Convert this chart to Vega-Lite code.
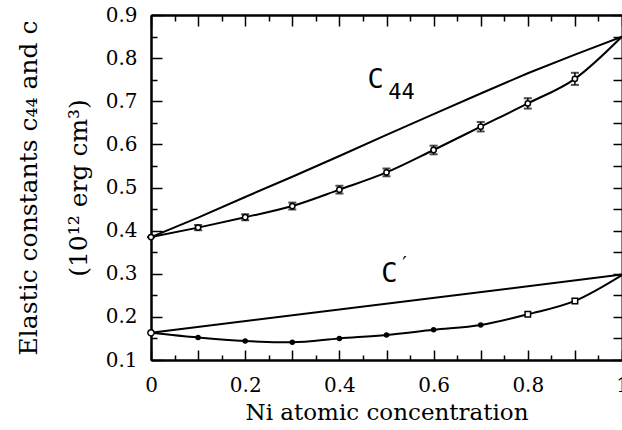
{
  "$schema": "https://vega.github.io/schema/vega-lite/v6.json",
  "width": 471,
  "height": 345,
  "autosize": "none",
  "padding": {"left": 151, "top": 15, "right": 0, "bottom": 70},
  "background": "white",
  "config": {
    "view": {"stroke": null},
    "axis": {
      "labelFont": "DejaVu Serif",
      "titleFont": "DejaVu Serif",
      "labelColor": "black",
      "titleColor": "black",
      "domainColor": "black",
      "tickColor": "black",
      "domainWidth": 2,
      "tickWidth": 1.5,
      "grid": false,
      "titleFontWeight": "normal",
      "labelFontSize": 20,
      "labelFlush": false
    }
  },
  "datasets": {
    "curves": [
      {"series": "c44_linear", "x": 0.0, "y": 0.385},
      {"series": "c44_linear", "x": 0.1, "y": 0.43},
      {"series": "c44_linear", "x": 0.2, "y": 0.478},
      {"series": "c44_linear", "x": 0.3, "y": 0.525},
      {"series": "c44_linear", "x": 0.4, "y": 0.573},
      {"series": "c44_linear", "x": 0.5, "y": 0.622},
      {"series": "c44_linear", "x": 0.6, "y": 0.67},
      {"series": "c44_linear", "x": 0.7, "y": 0.718},
      {"series": "c44_linear", "x": 0.8, "y": 0.765},
      {"series": "c44_linear", "x": 0.9, "y": 0.808},
      {"series": "c44_linear", "x": 1.0, "y": 0.85},
      {"series": "c44", "x": 0.0, "y": 0.385, "ylo": 0.385, "yhi": 0.385},
      {"series": "c44", "x": 0.1, "y": 0.407, "ylo": 0.401, "yhi": 0.413},
      {"series": "c44", "x": 0.2, "y": 0.431, "ylo": 0.424, "yhi": 0.438},
      {"series": "c44", "x": 0.3, "y": 0.457, "ylo": 0.449, "yhi": 0.465},
      {"series": "c44", "x": 0.4, "y": 0.495, "ylo": 0.486, "yhi": 0.504},
      {"series": "c44", "x": 0.5, "y": 0.535, "ylo": 0.526, "yhi": 0.544},
      {"series": "c44", "x": 0.6, "y": 0.587, "ylo": 0.577, "yhi": 0.597},
      {"series": "c44", "x": 0.7, "y": 0.641, "ylo": 0.63, "yhi": 0.652},
      {"series": "c44", "x": 0.8, "y": 0.695, "ylo": 0.683, "yhi": 0.707},
      {"series": "c44", "x": 0.9, "y": 0.752, "ylo": 0.738, "yhi": 0.766},
      {"series": "c44", "x": 1.0, "y": 0.85},
      {"series": "cp_linear", "x": 0.0, "y": 0.163},
      {"series": "cp_linear", "x": 1.0, "y": 0.298},
      {"series": "cp", "x": 0.0, "y": 0.163},
      {"series": "cp", "x": 0.1, "y": 0.152},
      {"series": "cp", "x": 0.2, "y": 0.144},
      {"series": "cp", "x": 0.3, "y": 0.141},
      {"series": "cp", "x": 0.4, "y": 0.15},
      {"series": "cp", "x": 0.5, "y": 0.158},
      {"series": "cp", "x": 0.6, "y": 0.17},
      {"series": "cp", "x": 0.7, "y": 0.181},
      {"series": "cp", "x": 0.8, "y": 0.206},
      {"series": "cp", "x": 0.9, "y": 0.237},
      {"series": "cp", "x": 1.0, "y": 0.297}
    ],
    "labels": [
      {"kind": "main", "t": "C", "x": 0.477, "y": 0.749},
      {"kind": "sub", "t": "44", "x": 0.532, "y": 0.721},
      {"kind": "main", "t": "C", "x": 0.506, "y": 0.3},
      {"kind": "prime", "t": "′", "x": 0.538, "y": 0.322}
    ]
  },
  "layer": [
    {
      "data": {"name": "curves"},
      "transform": [{"filter": "datum.series == 'c44_linear'"}],
      "mark": {"type": "line", "color": "black", "strokeWidth": 2},
      "encoding": {
        "x": {
          "field": "x", "type": "quantitative",
          "scale": {"domain": [0, 1], "nice": false, "zero": false},
          "axis": {
            "orient": "bottom",
            "values": [0, 0.1, 0.2, 0.3, 0.4, 0.5, 0.6, 0.7, 0.8, 0.9, 1],
            "labelExpr": "round(datum.value*10) % 2 == 0 ? format(datum.value, '~g') : ''",
            "tickSize": -10,
            "labelPadding": 25,
            "title": "Ni atomic concentration",
            "titleFontSize": 23,
            "titlePadding": 6
          }
        },
        "y": {
          "field": "y", "type": "quantitative",
          "scale": {"domain": [0.1, 0.9], "nice": false, "zero": false},
          "axis": {
            "orient": "left",
            "values": [0.1, 0.2, 0.3, 0.4, 0.5, 0.6, 0.7, 0.8, 0.9],
            "format": ".1f",
            "tickSize": -11,
            "labelPadding": 25,
            "title": ["Elastic constants c₄₄  and c", "(10¹² erg cm³)"],
            "titleFontSize": 25,
            "titleLineHeight": 50,
            "titlePadding": 14
          }
        }
      }
    },
    {
      "data": {"name": "curves"},
      "transform": [{"filter": "datum.series == 'cp_linear'"}],
      "mark": {"type": "line", "color": "black", "strokeWidth": 2},
      "encoding": {
        "x": {
          "field": "x", "type": "quantitative",
          "axis": {
            "orient": "bottom",
            "values": [0.05, 0.15, 0.25, 0.35, 0.45, 0.55, 0.65, 0.75, 0.85, 0.95],
            "labels": false, "tickSize": -5, "title": null
          }
        },
        "y": {
          "field": "y", "type": "quantitative",
          "axis": {
            "orient": "left",
            "values": [0.15, 0.25, 0.35, 0.45, 0.55, 0.65, 0.75, 0.85],
            "labels": false, "tickSize": -6, "title": null
          }
        }
      }
    },
    {
      "data": {"name": "curves"},
      "transform": [{"filter": "datum.series == 'c44'"}],
      "mark": {"type": "line", "color": "black", "strokeWidth": 2, "interpolate": "monotone"},
      "encoding": {
        "x": {
          "field": "x", "type": "quantitative",
          "axis": {
            "orient": "top",
            "values": [0, 0.1, 0.2, 0.3, 0.4, 0.5, 0.6, 0.7, 0.8, 0.9, 1],
            "labels": false, "tickSize": -11, "title": null
          }
        },
        "y": {
          "field": "y", "type": "quantitative",
          "axis": {
            "orient": "right",
            "values": [0.1, 0.15, 0.2, 0.25, 0.3, 0.35, 0.4, 0.45, 0.5, 0.55, 0.6, 0.65, 0.7, 0.75, 0.8, 0.85, 0.9],
            "labels": false, "tickSize": -9, "title": null
          }
        }
      }
    },
    {
      "data": {"name": "curves"},
      "transform": [{"filter": "datum.series == 'cp'"}],
      "mark": {"type": "line", "color": "black", "strokeWidth": 2, "interpolate": "monotone"},
      "encoding": {
        "x": {
          "field": "x", "type": "quantitative",
          "axis": {
            "orient": "top",
            "values": [0.05, 0.15, 0.25, 0.35, 0.45, 0.55, 0.65, 0.75, 0.85, 0.95],
            "labels": false, "tickSize": -6, "title": null
          }
        },
        "y": {"field": "y", "type": "quantitative", "axis": null}
      }
    },
    {
      "data": {"name": "curves"},
      "transform": [{"filter": "datum.series == 'c44' && datum.x < 1"}],
      "mark": {"type": "errorbar", "color": "black", "thickness": 1.5, "ticks": {"size": 8, "thickness": 2, "color": "black"}},
      "encoding": {
        "x": {"field": "x", "type": "quantitative", "axis": null},
        "y": {"field": "ylo", "type": "quantitative", "axis": null},
        "y2": {"field": "yhi"}
      }
    },
    {
      "data": {"name": "curves"},
      "transform": [{"filter": "datum.series == 'c44' && datum.x < 1"}],
      "mark": {"type": "point", "shape": "circle", "filled": true, "fill": "white", "stroke": "black", "strokeWidth": 1.5, "size": 28, "opacity": 1},
      "encoding": {
        "x": {"field": "x", "type": "quantitative", "axis": null},
        "y": {"field": "y", "type": "quantitative", "axis": null}
      }
    },
    {
      "data": {"name": "curves"},
      "transform": [{"filter": "datum.series == 'cp' && datum.x > 0 && datum.x < 0.75"}],
      "mark": {"type": "point", "shape": "circle", "filled": true, "color": "black", "size": 30, "opacity": 1},
      "encoding": {
        "x": {"field": "x", "type": "quantitative", "axis": null},
        "y": {"field": "y", "type": "quantitative", "axis": null}
      }
    },
    {
      "data": {"name": "curves"},
      "transform": [{"filter": "datum.series == 'cp' && datum.x > 0.75 && datum.x < 1"}],
      "mark": {"type": "point", "shape": "square", "filled": true, "fill": "white", "stroke": "black", "strokeWidth": 1.5, "size": 30, "opacity": 1},
      "encoding": {
        "x": {"field": "x", "type": "quantitative", "axis": null},
        "y": {"field": "y", "type": "quantitative", "axis": null}
      }
    },
    {
      "data": {"name": "curves"},
      "transform": [{"filter": "datum.series == 'cp' && datum.x == 0"}],
      "mark": {"type": "point", "shape": "circle", "filled": true, "fill": "white", "stroke": "black", "strokeWidth": 1.5, "size": 40, "opacity": 1},
      "encoding": {
        "x": {"field": "x", "type": "quantitative", "axis": null},
        "y": {"field": "y", "type": "quantitative", "axis": null}
      }
    },
    {
      "data": {"name": "labels"},
      "transform": [{"filter": "datum.kind == 'main'"}],
      "mark": {"type": "text", "font": "DejaVu Sans Mono", "fontSize": 27, "color": "black", "align": "center", "baseline": "middle"},
      "encoding": {
        "x": {"field": "x", "type": "quantitative", "axis": null},
        "y": {"field": "y", "type": "quantitative", "axis": null},
        "text": {"field": "t"}
      }
    },
    {
      "data": {"name": "labels"},
      "transform": [{"filter": "datum.kind == 'sub'"}],
      "mark": {"type": "text", "font": "DejaVu Sans Mono", "fontSize": 22, "color": "black", "align": "center", "baseline": "middle"},
      "encoding": {
        "x": {"field": "x", "type": "quantitative", "axis": null},
        "y": {"field": "y", "type": "quantitative", "axis": null},
        "text": {"field": "t"}
      }
    },
    {
      "data": {"name": "labels"},
      "transform": [{"filter": "datum.kind == 'prime'"}],
      "mark": {"type": "text", "font": "DejaVu Sans", "fontSize": 20, "color": "black", "align": "center", "baseline": "middle"},
      "encoding": {
        "x": {"field": "x", "type": "quantitative", "axis": null},
        "y": {"field": "y", "type": "quantitative", "axis": null},
        "text": {"field": "t"}
      }
    }
  ],
  "resolve": {"axis": {"x": "independent", "y": "independent"}}
}
